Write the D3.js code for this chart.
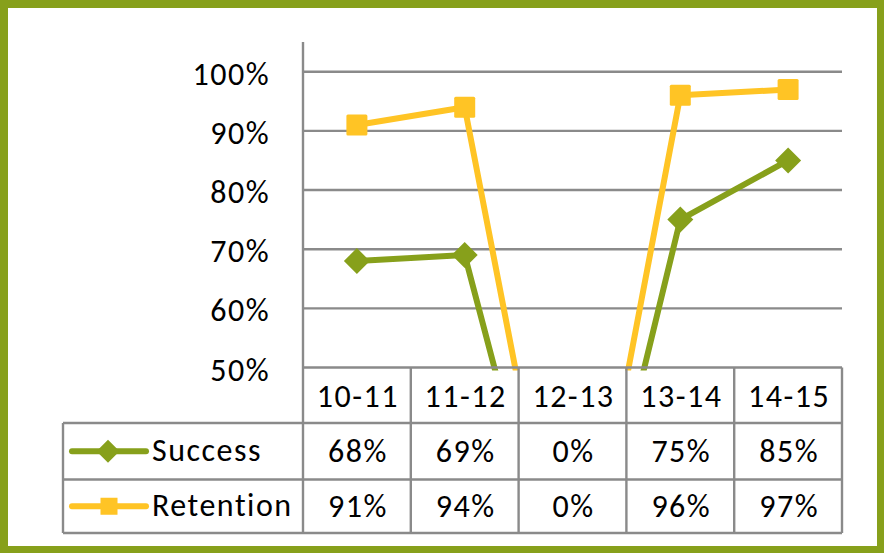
<!DOCTYPE html>
<html>
<head>
<meta charset="utf-8">
<script src="https://cdn.jsdelivr.net/npm/d3@7/dist/d3.min.js"></script>
<style>
  html, body { margin: 0; padding: 0; background: #fff; }
  svg { display: block; }
  text { font-family: Carlito, Calibri, Lato, "Open Sans", sans-serif; fill: #000; letter-spacing: 1.5px; }
</style>
</head>
<body>
<svg id="chart" width="884" height="553"></svg>
<script>
// Academic years shown along the x axis / data table header
const categories = ["10-11", "11-12", "12-13", "13-14", "14-15"];
// Rates per year (0 for the year without data)
const successValues = [0.68, 0.69, 0, 0.75, 0.85];
const retentionValues = [0.91, 0.94, 0, 0.96, 0.97];
const seriesNames = ["Success", "Retention"];
const yTicks = [0.5, 0.6, 0.7, 0.8, 0.9, 1.0];

const W = 884, H = 553;
const olive = "#87A01B";
const amber = "#FFC425";
const grid = "#8A8A8A";
const fontSize = 32;

const svg = d3.select("#chart");

// Layout
const plotLeft = 303, plotRight = 842;
const plotTop = 42, plotBottom = 367.5;
const tableRows = [367.5, 423, 479.5, 533];   // header / Success / Retention
const legendLeft = 63;

const x = d3.scaleBand().domain(categories).range([plotLeft, plotRight]);
const y = d3.scaleLinear().domain([0.5, 1.0]).range([plotBottom, 71.7]);
const pct = d3.format(".0%");

// Outer frame
svg.append("rect")
  .attr("x", 4).attr("y", 4).attr("width", W - 7).attr("height", H - 7)
  .attr("fill", "#fff").attr("stroke", olive).attr("stroke-width", 8);

// Horizontal gridlines (50% coincides with the table top)
svg.append("g").selectAll("line").data(yTicks.filter(t => t > 0.5)).join("line")
  .attr("x1", plotLeft).attr("x2", plotRight)
  .attr("y1", d => y(d)).attr("y2", d => y(d))
  .attr("stroke", grid).attr("stroke-width", 2.4);

// Y axis tick labels
svg.append("g").selectAll("text").data(yTicks).join("text")
  .attr("x", 270).attr("y", d => y(d) + 13)
  .attr("text-anchor", "end")
  .attr("font-size", fontSize)
  .text(d => pct(d));

// Series lines, clipped to the plot area
svg.append("defs").append("clipPath").attr("id", "plotClip")
  .append("rect")
  .attr("x", plotLeft).attr("y", plotTop - 20)
  .attr("width", plotRight - plotLeft + 20).attr("height", plotBottom + 3 - (plotTop - 20));

const cx = d => x(d) + x.bandwidth() / 2;
const line = d3.line().x(d => cx(d.cat)).y(d => y(d.v));

const series = [
  { name: seriesNames[0], values: successValues, color: olive, marker: "diamond" },
  { name: seriesNames[1], values: retentionValues, color: amber, marker: "square" }
];

const diamondPath = r => `M0,${-r}L${r},0L0,${r}L${-r},0Z`;

const plot = svg.append("g").attr("clip-path", "url(#plotClip)");
series.forEach(s => {
  const pts = categories.map((c, i) => ({ cat: c, v: s.values[i] }));
  plot.append("path")
    .attr("d", line(pts))
    .attr("fill", "none")
    .attr("stroke", s.color)
    .attr("stroke-width", 6)
    .attr("stroke-linejoin", "round");
  const g = plot.append("g");
  pts.filter(p => p.v >= 0.5).forEach(p => {
    if (s.marker === "diamond") {
      g.append("path")
        .attr("transform", `translate(${cx(p.cat)},${y(p.v)})`)
        .attr("d", diamondPath(13))
        .attr("fill", s.color);
    } else {
      g.append("rect")
        .attr("x", cx(p.cat) - 10.5).attr("y", y(p.v) - 10.5)
        .attr("width", 21).attr("height", 21).attr("rx", 1.5)
        .attr("fill", s.color);
    }
  });
});

// Vertical axis line (runs down through the data table)
svg.append("line")
  .attr("x1", plotLeft).attr("x2", plotLeft)
  .attr("y1", plotTop).attr("y2", tableRows[3])
  .attr("stroke", grid).attr("stroke-width", 2.4);

// Data table grid
const tbl = svg.append("g").attr("stroke", grid).attr("stroke-width", 2.4);
tbl.append("line").attr("x1", plotLeft).attr("x2", plotRight)
  .attr("y1", tableRows[0]).attr("y2", tableRows[0]);
tableRows.slice(1).forEach(r => {
  tbl.append("line").attr("x1", legendLeft).attr("x2", plotRight).attr("y1", r).attr("y2", r);
});
tbl.append("line").attr("x1", legendLeft).attr("x2", legendLeft)
  .attr("y1", tableRows[1]).attr("y2", tableRows[3]);
categories.forEach(c => {
  const xr = x(c) + x.bandwidth();
  tbl.append("line").attr("x1", xr).attr("x2", xr)
    .attr("y1", tableRows[0]).attr("y2", tableRows[3]);
});

// Header row: category labels
svg.append("g").selectAll("text").data(categories).join("text")
  .attr("x", d => cx(d) + 1).attr("y", 407)
  .attr("text-anchor", "middle").attr("font-size", fontSize)
  .text(d => d);

// Value rows
const rowBaselines = [462, 517];
series.forEach((s, si) => {
  svg.append("g").selectAll("text").data(categories).join("text")
    .attr("x", d => cx(d) + 1).attr("y", rowBaselines[si])
    .attr("text-anchor", "middle").attr("font-size", fontSize)
    .text((d, i) => pct(s.values[i]));

  // Legend key in the first column
  const ly = (tableRows[si + 1] + tableRows[si + 2]) / 2;
  const lg = svg.append("g");
  lg.append("line")
    .attr("x1", 72).attr("x2", 146).attr("y1", ly).attr("y2", ly)
    .attr("stroke", s.color).attr("stroke-width", 6).attr("stroke-linecap", "round");
  if (s.marker === "diamond") {
    lg.append("path").attr("transform", `translate(108,${ly})`)
      .attr("d", diamondPath(11.5)).attr("fill", s.color);
  } else {
    lg.append("rect").attr("x", 109 - 8.5).attr("y", ly - 8.5)
      .attr("width", 17).attr("height", 17).attr("fill", s.color);
  }
  lg.append("text")
    .attr("x", 152).attr("y", rowBaselines[si] - 1)
    .attr("font-size", fontSize)
    .text(s.name);
});
</script>
</body>
</html>
